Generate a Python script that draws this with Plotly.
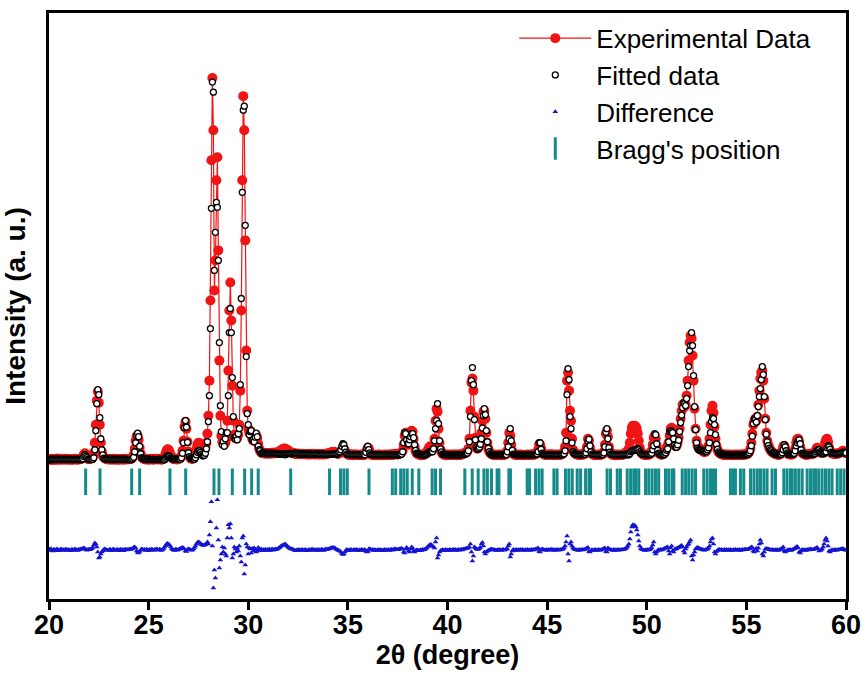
import numpy as np
import plotly.graph_objects as go

# ---------------- data ----------------
scan_start, scan_stop, scan_step = 20.0, 60.0, 0.05   # 2theta scan grid

obs_20 = [215,210,220,212,208,218,214,210,222,216,209,213,220,215,211,217,213,219,210,214]
obs_21 = [216,212,209,218,214,211,220,215,213,210,217,214,219,222,235,262,275,250,228,218]
obs_22 = [218,215,222,225,240,280,380,560,800,890,780,560,380,290,250,232,225,220,216,214]
obs_23 = [212,218,214,210,216,220,213,211,217,215,209,214,218,212,216,210,215,219,213,217]
obs_24 = [214,220,216,222,235,260,320,400,445,450,410,330,270,240,228,220,216,212,218,214]
obs_25 = [210,216,213,219,215,211,217,214,220,216,212,218,214,210,216,225,240,270,300,315]
obs_26 = [310,290,262,238,225,218,214,220,216,212,218,222,230,250,300,400,540,590,520,390]
obs_27 = [290,245,228,220,218,225,240,270,320,360,380,375,350,320,300,295,305,330,380,470]
obs_28 = [650,1000,1800,3200,4020,3500,1900,2200,3000,3230,2300,1200,650,450,390,370,365,380,420,600]
obs_29 = [1100,1700,1980,1600,950,600,460,430,420,430,460,560,900,1700,3000,3840,3500,2400,1300,700]
obs_30 = [520,480,500,470,420,400,410,440,455,430,370,320,295,282,275,280,272,278,270,276]
obs_31 = [272,278,270,275,280,273,277,282,276,279,285,290,298,306,312,318,322,320,315,310]
obs_32 = [302,295,288,282,278,275,272,270,268,272,266,270,268,265,270,267,264,268,266,263]
obs_33 = [265,268,262,266,270,264,267,262,265,268,263,266,262,265,268,264,262,266,270,267]
obs_34 = [272,275,278,282,286,290,288,284,278,272,268,272,278,290,310,325,320,300,280,270]
obs_35 = [262,258,262,265,260,256,260,263,258,262,258,255,260,257,262,258,255,262,275,305]
obs_36 = [330,322,290,268,258,262,256,260,258,255,259,262,256,260,258,254,258,262,256,260]
obs_37 = [258,262,257,260,264,258,262,266,270,265,262,266,270,275,282,300,360,450,480,430]
obs_38 = [380,360,390,450,500,490,420,340,295,275,268,262,258,262,256,260,258,262,270,285]
obs_39 = [300,320,340,345,340,330,350,420,600,720,690,520,380,310,285,270,262,258,262,256]
obs_40 = [260,257,262,258,255,260,263,258,262,256,259,263,258,261,266,262,270,275,280,285]
obs_41 = [295,320,420,700,980,1020,900,640,430,340,320,330,350,390,480,600,690,700,620,480]
obs_42 = [380,320,290,275,268,262,258,262,258,255,260,257,262,258,255,260,264,258,262,270]
obs_43 = [300,380,480,450,360,295,272,262,258,262,256,260,258,262,257,261,258,255,260,258]
obs_44 = [262,258,261,257,262,258,264,260,266,270,278,310,365,360,320,285,270,262,258,262]
obs_45 = [258,262,257,260,264,258,262,256,260,258,262,257,261,258,262,266,272,290,340,480]
obs_46 = [1000,1080,900,700,600,420,310,285,272,265,262,258,262,258,262,266,260,265,270,290]
obs_47 = [340,420,400,330,285,268,262,258,262,256,260,258,262,257,260,264,270,290,360,470]
obs_48 = [500,440,340,290,270,262,258,262,256,260,258,262,257,261,258,262,260,264,270,280]
obs_49 = [290,300,320,380,470,530,550,545,550,540,520,470,400,330,290,272,265,260,258,262]
obs_50 = [258,262,260,266,275,300,360,430,450,420,350,300,278,268,262,260,264,270,280,300]
obs_51 = [330,350,380,450,520,530,470,400,360,345,350,380,430,520,620,700,760,770,740,760]
obs_52 = [850,1000,1200,1380,1450,1420,1250,1000,720,520,400,350,330,320,315,310,300,290,285,290]
obs_53 = [300,320,350,420,560,700,750,680,540,420,350,310,290,278,270,266,262,258,262,258]
obs_54 = [262,258,260,257,262,258,256,260,258,262,257,260,258,262,256,259,262,258,262,266]
obs_55 = [262,268,275,290,320,380,470,560,600,620,600,640,760,900,1020,1080,1100,1000,820,620]
obs_56 = [480,400,360,330,310,295,285,278,272,268,265,262,258,262,266,275,300,340,350,320]
obs_57 = [290,275,268,262,265,260,264,270,285,320,380,415,420,390,340,300,280,270,265,262]
obs_58 = [258,262,266,262,270,268,265,270,275,285,310,330,322,300,285,278,285,300,330,380]
obs_59 = [410,420,390,330,295,280,275,270,268,272,270,268,272,275,280,285,290,300,290,280]
obs_60 = [275]

# observed minus calculated (difference curve)
diff_20 = [8,-6,12,-4,-10,6,2,-8,10,4,-9,-2,9,3,-6,5,-3,8,-7,2]
diff_21 = [4,-3,-8,7,2,-5,9,3,-2,-7,6,1,8,10,15,20,15,5,-4,3]
diff_22 = [6,2,10,12,25,50,70,60,30,-20,-80,-70,-40,-20,-8,5,8,3,-2,-4]
diff_23 = [-6,6,2,-8,4,9,-3,-5,5,3,-9,1,6,-4,4,-8,3,7,-2,5]
diff_24 = [2,8,4,10,15,25,30,20,-10,-25,-30,-15,0,8,5,-2,3,-6,6,2]
diff_25 = [-8,4,0,7,3,-5,5,2,8,4,-3,6,2,-7,4,15,30,45,60,65]
diff_26 = [60,50,35,15,5,-2,-6,6,3,-4,5,8,15,20,25,20,10,-10,-15,5]
diff_27 = [10,5,2,-4,0,10,25,40,60,75,80,75,65,55,50,45,50,55,60,80]
diff_28 = [60,150,280,480,40,-380,-200,-280,220,500,100,-180,-100,-40,30,-20,20,-40,-60,120]
diff_29 = [250,220,260,120,-80,-40,30,10,-20,20,-10,40,-60,-120,120,140,-240,-150,60,30]
diff_30 = [-40,20,10,-30,15,-10,20,5,-20,-10,25,10,-5,8,-6,4,-8,6,-4,5]
diff_31 = [-5,8,-6,3,8,-4,5,10,2,8,15,22,30,40,45,50,55,60,50,40]
diff_32 = [30,22,15,10,8,4,-2,-5,-8,2,-6,3,-2,-7,5,0,-6,4,-2,-8]
diff_33 = [-4,5,-6,2,8,-3,4,-7,-2,5,-5,3,-6,2,6,-2,-5,3,8,4]
diff_34 = [8,10,14,18,22,25,22,18,10,4,-2,-8,-12,-20,-35,-45,-40,-20,-5,4]
diff_35 = [-3,-8,2,5,-2,-7,0,4,-4,3,-3,-8,2,-4,4,-2,-6,3,-10,-20]
diff_36 = [-15,10,12,5,-4,3,-6,2,-2,-6,0,4,-5,2,-2,-8,-2,4,-6,2]
diff_37 = [-4,3,-5,2,6,-3,4,8,10,5,2,6,10,12,15,10,-20,-30,10,25]
diff_38 = [10,-10,-20,10,30,20,-10,-20,-8,0,-4,-6,-8,2,-6,3,-2,4,10,20]
diff_39 = [30,40,50,55,50,40,30,20,80,120,-80,-50,-20,-8,-4,2,-3,-6,3,-7]
diff_40 = [0,-5,3,-2,-6,2,5,-3,4,-5,-1,5,-3,2,6,0,8,10,12,15]
diff_41 = [18,20,30,60,-20,-110,-60,30,20,10,5,8,15,25,60,73,40,-20,-40,-20]
diff_42 = [-10,-5,0,5,8,4,-2,3,-3,-6,2,-4,3,-2,-6,2,5,-3,2,8]
diff_43 = [10,40,60,-70,-40,-10,5,-2,-6,3,-5,2,-3,4,-4,3,-2,-6,2,-3]
diff_44 = [3,-3,2,-5,4,-2,5,0,6,8,10,20,-15,-20,5,8,4,0,-4,2]
diff_45 = [-3,4,-4,2,6,-2,3,-5,2,-2,3,-4,2,-2,4,6,10,20,40,80]
diff_46 = [140,-40,-110,60,80,40,20,10,5,2,-2,-5,3,-3,2,5,-2,3,6,10]
diff_47 = [20,25,-15,-20,-5,2,-3,-6,3,-5,1,-3,3,-4,0,4,8,12,20,-15]
diff_48 = [-20,20,10,5,2,-2,-5,3,-6,1,-3,3,-4,2,-2,3,1,4,8,15]
diff_49 = [25,40,60,110,180,230,250,240,245,230,200,150,90,40,15,6,2,-2,-5,2]
diff_50 = [-4,3,0,5,10,25,50,80,-20,-40,-20,-5,2,-3,3,0,4,10,15,20]
diff_51 = [25,30,-10,-40,20,40,-10,-20,5,10,15,20,25,30,40,45,30,-10,-30,10]
diff_52 = [30,50,60,80,100,-60,-100,-50,-20,10,20,25,20,15,10,5,3,-2,-4,2]
diff_53 = [6,10,20,40,80,110,120,60,-20,-40,-15,-5,2,3,-2,4,-3,-6,3,-5]
diff_54 = [3,-4,2,-5,4,-3,-6,2,-2,4,-3,2,-4,3,-6,0,4,-2,3,6]
diff_55 = [2,5,8,12,20,30,25,-10,-20,10,15,-10,20,60,100,70,-40,-60,-20,10]
diff_56 = [15,10,8,5,2,-3,4,-2,-4,2,-3,3,-5,2,6,10,20,30,-10,-20]
diff_57 = [-10,-4,2,-4,3,-5,2,6,12,20,30,35,20,-20,-30,-10,3,-2,-4,2]
diff_58 = [-5,2,6,-2,8,6,2,5,8,12,20,25,10,-10,-5,0,10,30,60,100]
diff_59 = [120,90,40,-10,-20,-5,2,-4,-6,3,0,-4,2,3,5,8,10,15,5,0]
diff_60 = [-3]

bragg_positions = [
    21.84, 22.56, 24.15, 24.55, 26.07, 26.86, 28.28, 28.53, 29.20, 29.82,
    30.17, 30.50, 32.13, 34.08, 34.63, 34.80, 34.97, 36.06, 37.23, 37.40,
    37.65, 37.81, 37.98, 38.23, 38.56, 39.23, 39.40, 39.65, 40.87, 41.24,
    41.54, 41.83, 42.00, 42.21, 42.49, 42.58, 43.08, 43.16, 44.00, 44.12,
    44.42, 44.59, 44.75, 45.34, 45.50, 45.92, 46.09, 46.26, 46.51, 46.68,
    46.93, 47.10, 47.18, 48.01, 48.18, 48.52, 48.68, 49.02, 49.19, 49.35,
    49.45, 49.60, 49.94, 50.10, 50.27, 50.44, 50.60, 50.94, 51.10, 51.27,
    51.36, 51.78, 51.95, 52.11, 52.28, 52.45, 52.86, 53.03, 53.20, 53.32,
    53.45, 54.20, 54.34, 54.45, 54.70, 54.87, 55.21, 55.38, 55.55, 55.71,
    55.88, 56.04, 56.29, 56.46, 56.88, 57.04, 57.21, 57.30, 57.46, 57.63,
    57.80, 58.05, 58.22, 58.38, 58.47, 58.63, 58.80, 58.97, 59.14, 59.30,
    59.56, 59.73, 59.90,
]

x_ticks = [20, 25, 30, 35, 40, 45, 50, 55, 60]

# ---------------- assemble ----------------
obs_blocks = [obs_20, obs_21, obs_22, obs_23, obs_24, obs_25, obs_26, obs_27, obs_28, obs_29,
              obs_30, obs_31, obs_32, obs_33, obs_34, obs_35, obs_36, obs_37, obs_38, obs_39,
              obs_40, obs_41, obs_42, obs_43, obs_44, obs_45, obs_46, obs_47, obs_48, obs_49,
              obs_50, obs_51, obs_52, obs_53, obs_54, obs_55, obs_56, obs_57, obs_58, obs_59, obs_60]
diff_blocks = [diff_20, diff_21, diff_22, diff_23, diff_24, diff_25, diff_26, diff_27, diff_28, diff_29,
               diff_30, diff_31, diff_32, diff_33, diff_34, diff_35, diff_36, diff_37, diff_38, diff_39,
               diff_40, diff_41, diff_42, diff_43, diff_44, diff_45, diff_46, diff_47, diff_48, diff_49,
               diff_50, diff_51, diff_52, diff_53, diff_54, diff_55, diff_56, diff_57, diff_58, diff_59, diff_60]
y_obs = np.array([v for b in obs_blocks for v in b], dtype=float)
y_diff = np.array([v for b in diff_blocks for v in b], dtype=float)
two_theta = np.round(scan_start + scan_step * np.arange(len(y_obs)), 2)
y_calc = y_obs - y_diff

DIFF_OFFSET = -690     # vertical placement of the difference curve
BRAGG_LEVEL = -10      # vertical placement of Bragg markers

RED = "#f01414"
TEAL = "#148a8a"
BLUE = "#1414d2"
FONT = "Liberation Sans, Arial, sans-serif"

fig = go.Figure()
fig.add_trace(go.Scatter(
    x=two_theta, y=y_obs, mode="lines+markers", name="Experimental Data",
    line=dict(color=RED, width=1.2),
    marker=dict(symbol="circle", size=10, color=RED, line=dict(width=0)),
))
fig.add_trace(go.Scatter(
    x=two_theta, y=y_calc, mode="markers", name="Fitted data",
    marker=dict(symbol="circle", size=6, color="white", line=dict(color="black", width=1.3)),
))
fig.add_trace(go.Scatter(
    x=two_theta, y=y_diff + DIFF_OFFSET, mode="markers", name="Difference",
    marker=dict(symbol="triangle-up", size=5, color=BLUE, line=dict(width=0)),
))
fig.add_trace(go.Scatter(
    x=bragg_positions, y=[BRAGG_LEVEL] * len(bragg_positions), mode="markers",
    name="Bragg's position",
    marker=dict(symbol="line-ns", size=19, color=TEAL, line=dict(color=TEAL, width=3)),
))

fig.update_layout(
    width=865, height=676,
    margin=dict(l=49, r=19, t=13, b=77, autoexpand=False),
    paper_bgcolor="white", plot_bgcolor="white",
    font=dict(family=FONT, color="black"),
    showlegend=True,
    legend=dict(
        x=0.5838, xanchor="left", y=0.997, yanchor="top",
        bgcolor="rgba(0,0,0,0)", borderwidth=0,
        font=dict(family=FONT, size=26, color="black"),
        itemwidth=72, tracegroupgap=0,
    ),
    xaxis=dict(
        range=[20, 60], tickvals=x_ticks, ticktext=[str(t) for t in x_ticks],
        ticks="outside", ticklen=8, tickwidth=3, tickcolor="black",
        showline=True, linewidth=3, linecolor="black", mirror=True,
        showgrid=False, zeroline=False, automargin=False,
        ticklabelstandoff=-8,
        tickfont=dict(family=FONT, size=27, color="black", weight="bold"),
        title=dict(text="2θ (degree)", font=dict(family=FONT, size=27, color="black", weight="bold"),
                   standoff=0),
    ),
    yaxis=dict(
        range=[-1180, 4670], showticklabels=False, ticks="",
        showline=True, linewidth=3, linecolor="black", mirror=True,
        showgrid=False, zeroline=False, automargin=False,
        title=dict(text="Intensity (a. u.)", font=dict(family=FONT, size=28, color="black", weight="bold"),
                   standoff=14),
    ),
)

fig.write_html("out.html", config={"displayModeBar": False},
               post_script="document.body.style.margin='0px';")
